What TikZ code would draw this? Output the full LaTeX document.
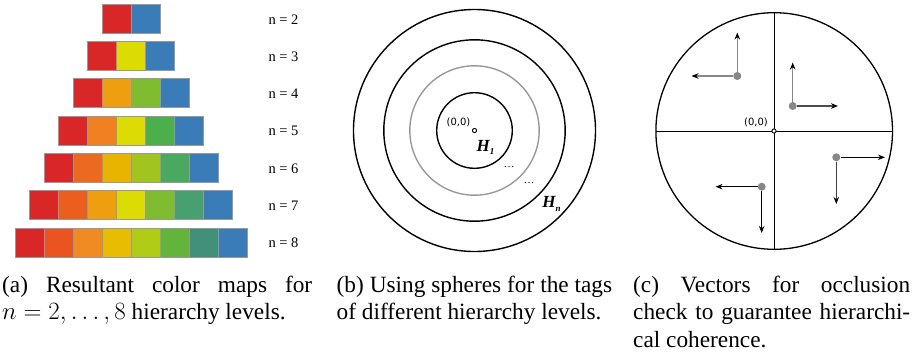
\documentclass[tikz,border=0pt]{standalone}
\usepackage{fontspec}
\setmainfont{Liberation Serif}
\newfontfamily\djsans{DejaVu Sans}
\usetikzlibrary{arrows.meta}
\definecolor{cR}{HTML}{D92727}
\definecolor{cB}{HTML}{3A7CB8}
\definecolor{cY}{HTML}{DCDC04}
\definecolor{cOa}{HTML}{EE9F10}
\definecolor{cGa}{HTML}{80BC30}
\definecolor{cOb}{HTML}{F08020}
\definecolor{cGb}{HTML}{4CB04A}
\definecolor{cOc}{HTML}{EC6A20}
\definecolor{cAc}{HTML}{E8B400}
\definecolor{cYc}{HTML}{A2C41E}
\definecolor{cGc}{HTML}{4AA860}
\definecolor{cOd}{HTML}{EC5E1E}
\definecolor{cGd}{HTML}{48A070}
\definecolor{cOe}{HTML}{EA5420}
\definecolor{cOf}{HTML}{F08A22}
\definecolor{cAe}{HTML}{E8BC00}
\definecolor{cYe}{HTML}{B0CC16}
\definecolor{cGe}{HTML}{62B43A}
\definecolor{cTe}{HTML}{40907A}
\definecolor{vecgray}{HTML}{888888}
\newcommand{\capfont}{\fontsize{23.3}{27.5}\selectfont}
\begin{document}
\begin{tikzpicture}[x=1pt,y=-1pt,
  sq/.style={draw=black!40, line width=0.9pt, minimum size=29pt, inner sep=0pt, outer sep=0pt},
  lbl/.style={font=\fontsize{14.5}{14.5}\selectfont, inner sep=0pt},
  orig/.style={circle, draw, fill=white, line width=0.9pt, minimum size=4.2pt, inner sep=0pt},
  small/.style={font=\djsans\fontsize{10}{10}\selectfont, inner sep=0pt},
  ring/.style={line width=1.4pt},
  dot/.style={circle, fill=vecgray, minimum size=8pt, inner sep=0pt},
  vec/.style={line width=1.1pt, -{Stealth[length=7pt,width=5.5pt,color=black]}},
  captext/.style={anchor=base west, inner sep=0pt}]
\useasboundingbox (0,0) rectangle (916,357);
% ---------- panel (a)
\foreach \n/\cols in {2/{cR,cB},3/{cR,cY,cB},4/{cR,cOa,cGa,cB},5/{cR,cOb,cY,cGb,cB},6/{cR,cOc,cAc,cYc,cGc,cB},7/{cR,cOd,cOa,cY,cGa,cGd,cB},8/{cR,cOe,cOf,cAe,cYe,cGe,cTe,cB}}{
  \foreach \c [count=\i] in \cols {
    \node[sq, fill=\c] (s\n-\i) at ({131-\n*14.5+(\i-0.5)*29}, {18.7+(\n-2)*37.33}) {};
  }
  \node[lbl] (l\n) at (283.5, {19.2+(\n-2)*37.33}) {n = \n};
}
% ---------- panel (b)
\draw[ring] (474.5,130.5) circle[radius=121];
\draw[ring] (474.5,130.5) circle[radius=90.7];
\draw[ring, black!40] (474.5,130.5) circle[radius=64.7];
\draw[ring] (474.5,130.5) circle[radius=37.8];
\node[orig] (o1) at (474.5,130.5) {};
\node[small] (t1) at (458.5,122.3) {(0,0)};
\node[inner sep=0pt] (h1) at (485.5,147.5) {\fontsize{17}{17}\selectfont\bfseries\itshape H\raisebox{-3.5pt}{\fontsize{9}{9}\selectfont 1}};
\node[inner sep=0pt] (hn) at (551.5,204) {\fontsize{17}{17}\selectfont\bfseries\itshape H\raisebox{-3.5pt}{\fontsize{9}{9}\selectfont n}};
\node[inner sep=0pt, font=\fontsize{11}{11}\selectfont] (e1) at (509,167) {\ldots};
\node[inner sep=0pt, font=\fontsize{11}{11}\selectfont] (e2) at (529,183) {\ldots};
% ---------- panel (c)
\coordinate (ct) at (774,12.5);
\coordinate (cb) at (774,249.5);
\coordinate (cl) at (656,131);
\coordinate (cr) at (892.5,131);
\draw[line width=1.3pt] (774.2,131) circle[radius=118.3];
\draw[line width=1pt] (ct) -- (cb);
\draw[line width=1pt] (cl) -- (cr);
\node[orig] (o2) at (774,131) {};
\node[small] (t2) at (756,122.5) {(0,0)};
% vectors
\node[dot] (d1) at (792.7,106) {};
\node[dot] (d2) at (737.3,76) {};
\node[dot] (d3) at (761.7,186.7) {};
\node[dot] (d4) at (836.3,157.3) {};
\coordinate (d1u) at (792.7,62.5);
\coordinate (d1r) at (838,106);
\coordinate (d2u) at (737.3,32.5);
\coordinate (d2l) at (691.5,76);
\coordinate (d3l) at (715.5,186.7);
\coordinate (d3d) at (761.7,233);
\coordinate (d4r) at (885,157.3);
\coordinate (d4d) at (836.3,204);
\draw[vec, vecgray] (d1) -- (d1u);
\draw[vec, black!70] (d1) -- (d1r);
\draw[vec, vecgray] (d2) -- (d2u);
\draw[vec, vecgray] (d2) -- (d2l);
\draw[vec, black] (d3) -- (d3l);
\draw[vec, black] (d3) -- (d3d);
\draw[vec, black] (d4) -- (d4r);
\draw[vec, black!75] (d4) -- (d4d);
% ---------- captions
\node[captext] (ca) at (2,292) {\parbox[t]{310pt}{\capfont (a) Resultant color maps for\linebreak $n=2,\ldots,8$ hierarchy levels.}};
\node[captext] (cbx) at (336.5,292) {\parbox[t]{275.5pt}{\capfont (b) Using spheres for the tags\linebreak of different hierarchy levels.}};
\node[captext] (ccx) at (633,292) {\parbox[t]{277pt}{\capfont (c) Vectors for occlusion\linebreak check to guarantee hierarchi-\linebreak cal coherence.}};
\end{tikzpicture}
\end{document}
